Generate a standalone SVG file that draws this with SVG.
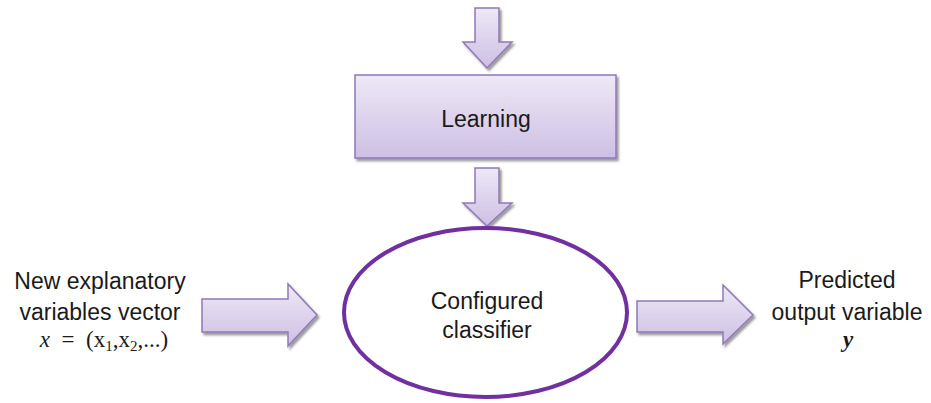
<svg xmlns="http://www.w3.org/2000/svg" width="931" height="403" viewBox="0 0 931 403">
  <defs>
    <linearGradient id="g" x1="0" y1="0" x2="0" y2="1">
      <stop offset="0" stop-color="#EEE8F6"/>
      <stop offset="1" stop-color="#CDBFE4"/>
    </linearGradient>
    <filter id="sh" x="-20%" y="-20%" width="140%" height="140%">
      <feDropShadow dx="2" dy="2.5" stdDeviation="1.3" flood-color="#000" flood-opacity="0.4"/>
    </filter>
  </defs>
  <style>
    .shape { fill: url(#g); stroke: #8F78B6; stroke-width: 1.5; filter: url(#sh); }
    .lbl { font-family: "Liberation Sans", Arial, sans-serif; font-size: 23px; fill: #1a1a1a; text-anchor: middle; }
    .math { font-family: "Liberation Serif", "DejaVu Serif", serif; font-size: 23px; fill: #1a1a1a; text-anchor: middle; }
  </style>
  <rect width="931" height="403" fill="#ffffff"/>

  <g id="connectors">
    <path id="arrow-top" class="shape" d="M475,8 H499 V42 H512 L487,68 L463,42 H475 Z"/>
    <path id="arrow-learning-classifier" class="shape" d="M475,168 H499 V203 H512 L487,226 L463,203 H475 Z"/>
    <path id="arrow-input" class="shape" d="M202,299 H288 V284 L317,315 L288,346 V332 H202 Z"/>
    <path id="arrow-output" class="shape" d="M637,301 H723 V285 L753,315 L723,344 V332 H637 Z"/>
  </g>

  <g id="node-learning">
    <rect class="shape" x="355" y="75" width="261" height="83"/>
    <text class="lbl" x="486" y="127">Learning</text>
  </g>

  <g id="node-classifier">
    <ellipse cx="485.5" cy="312.5" rx="141.5" ry="84.5" fill="#ffffff" stroke="#7030A0" stroke-width="4"/>
    <text class="lbl" x="487" y="309">Configured</text>
    <text class="lbl" x="487" y="338">classifier</text>
  </g>

  <g id="node-input">
    <text class="lbl" x="100" y="289">New explanatory</text>
    <text class="lbl" x="100" y="320">variables vector</text>
    <text class="math" x="104" y="347" xml:space="preserve"><tspan font-style="italic">x</tspan>  =  (x<tspan font-size="15" dy="4">1</tspan><tspan dy="-4">,x</tspan><tspan font-size="15" dy="4">2</tspan><tspan dy="-4">,...)</tspan></text>
  </g>

  <g id="node-output">
    <text class="lbl" x="847" y="288">Predicted</text>
    <text class="lbl" x="847" y="320">output variable</text>
    <text class="math" x="848" y="347" font-weight="bold" font-style="italic">y</text>
  </g>
</svg>
